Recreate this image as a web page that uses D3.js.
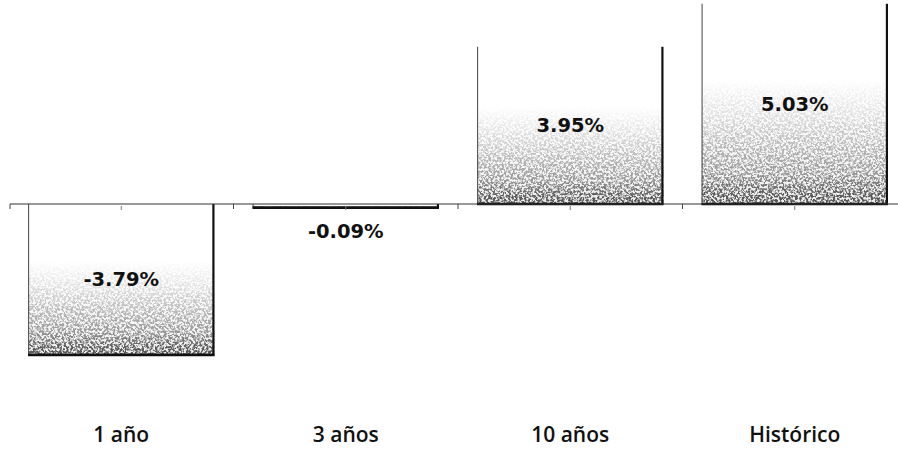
<!DOCTYPE html>
<html><head><meta charset="utf-8">
<script src="https://cdn.jsdelivr.net/npm/d3@7"></script>
<style>html,body{margin:0;padding:0;background:#fff;}svg{display:block;}</style>
</head><body>
<svg id="chart" width="898" height="451"></svg>
<script>
const categories = ["1 año", "3 años", "10 años", "Histórico"];
const values = [-3.79, -0.09, 3.95, 5.03];
const valueLabels = ["-3.79%", "-0.09%", "3.95%", "5.03%"];

const svg = d3.select("#chart");
const W = 898, H = 451;

const x = d3.scaleBand().domain(categories).range([9, 907]).paddingInner(0.17).paddingOuter(0.085);
const y = d3.scaleLinear().domain([-5, 5]).range([403, 5]);

const defs = svg.append("defs");
const grad = defs.append("linearGradient").attr("id", "g").attr("x1", 0).attr("y1", 0).attr("x2", 0).attr("y2", 1);
grad.append("stop").attr("offset", "0%").attr("stop-color", "#000").attr("stop-opacity", 0);
grad.append("stop").attr("offset", "38%").attr("stop-color", "#000").attr("stop-opacity", 0.0);
grad.append("stop").attr("offset", "55%").attr("stop-color", "#000").attr("stop-opacity", 0.12);
grad.append("stop").attr("offset", "85%").attr("stop-color", "#000").attr("stop-opacity", 0.4);
grad.append("stop").attr("offset", "100%").attr("stop-color", "#000").attr("stop-opacity", 0.75);

const f = defs.append("filter").attr("id", "noise").attr("x", 0).attr("y", 0).attr("width", 1).attr("height", 1);
f.append("feTurbulence").attr("type", "fractalNoise").attr("baseFrequency", 0.45).attr("numOctaves", 3).attr("seed", 7).attr("result", "n");
f.append("feColorMatrix").attr("in", "n").attr("type", "matrix")
  .attr("values", "0 0 0 0 0  0 0 0 0 0  0 0 0 0 0  5 0 0 0 -2.0").attr("result", "speck");
f.append("feComposite").attr("in", "speck").attr("in2", "SourceGraphic").attr("operator", "arithmetic")
  .attr("k1", 1.4).attr("k2", 0).attr("k3", 0.15).attr("k4", 0).attr("result", "c");
f.append("feColorMatrix").attr("in", "c").attr("type", "matrix")
  .attr("values", "0 0 0 0 0.1  0 0 0 0 0.1  0 0 0 0 0.1  0 0 0 1 0");

const data = categories.map((c, i) => ({c, v: values[i], label: valueLabels[i]}));
const y0 = y(0);

const bars = svg.append("g").selectAll("g").data(data).join("g");
bars.append("rect")
  .attr("x", d => x(d.c))
  .attr("y", d => Math.min(y(d.v), y0))
  .attr("width", x.bandwidth())
  .attr("height", d => Math.max(Math.abs(y(d.v) - y0), 3))
  .attr("fill", "url(#g)")
  .attr("filter", "url(#noise)");

// edges: thin left, thick right, thick far edge (bottom)
bars.append("line")
  .attr("x1", d => x(d.c) + 0.5).attr("x2", d => x(d.c) + 0.5)
  .attr("y1", d => Math.min(y(d.v), y0)).attr("y2", d => Math.max(y(d.v), y0) + 1)
  .attr("stroke", "#555").attr("stroke-width", 1.1);
bars.append("line")
  .attr("x1", d => x(d.c) + x.bandwidth() - 1).attr("x2", d => x(d.c) + x.bandwidth() - 1)
  .attr("y1", d => Math.min(y(d.v), y0)).attr("y2", d => Math.max(y(d.v), y0) + 1)
  .attr("stroke", "#111").attr("stroke-width", 2.2);
bars.append("line")
  .attr("x1", d => x(d.c)).attr("x2", d => x(d.c) + x.bandwidth())
  .attr("y1", d => d.v >= 0 ? y0 : y(d.v)).attr("y2", d => d.v >= 0 ? y0 : y(d.v))
  .attr("stroke", "#111").attr("stroke-width", 2.6);

// axis
const axisG = svg.append("g");
axisG.append("line").attr("x1", 10).attr("x2", W).attr("y1", y0).attr("y2", y0)
  .attr("stroke", "#333").attr("stroke-width", 1.2);
const bounds = [x.range()[0] + 1].concat(categories.slice(1).map(c => x(c) - x.step() * x.paddingInner() / 2));
axisG.selectAll("line.tk").data(bounds).join("line").attr("class", "tk")
  .attr("x1", d => d).attr("x2", d => d).attr("y1", y0).attr("y2", y0 + 5)
  .attr("stroke", "#444").attr("stroke-width", 1);
axisG.selectAll("line.mt").data(categories).join("line").attr("class", "mt")
  .attr("x1", d => x(d) + x.bandwidth() / 2).attr("x2", d => x(d) + x.bandwidth() / 2)
  .attr("y1", y0 + 2).attr("y2", y0 + 6)
  .attr("stroke", "#777").attr("stroke-width", 1);

// value labels
svg.append("g").selectAll("text").data(data).join("text")
  .attr("x", d => x(d.c) + x.bandwidth() / 2)
  .attr("y", d => Math.abs(y(d.v) - y0) < 20 ? y0 + 34 : (y(d.v) + y0) / 2 + 7)
  .attr("text-anchor", "middle")
  .attr("font-family", "DejaVu Sans, Verdana, sans-serif")
  .attr("font-weight", "bold").attr("font-size", 19.5).attr("fill", "#111")
  .text(d => d.label);

// category labels
svg.append("g").selectAll("text").data(categories).join("text")
  .attr("x", d => x(d) + x.bandwidth() / 2)
  .attr("y", 442)
  .attr("text-anchor", "middle")
  .attr("font-family", "Open Sans, sans-serif")
  .attr("font-weight", 600).attr("font-size", 21).attr("fill", "#111")
  .text(d => d);
</script>
</body></html>
